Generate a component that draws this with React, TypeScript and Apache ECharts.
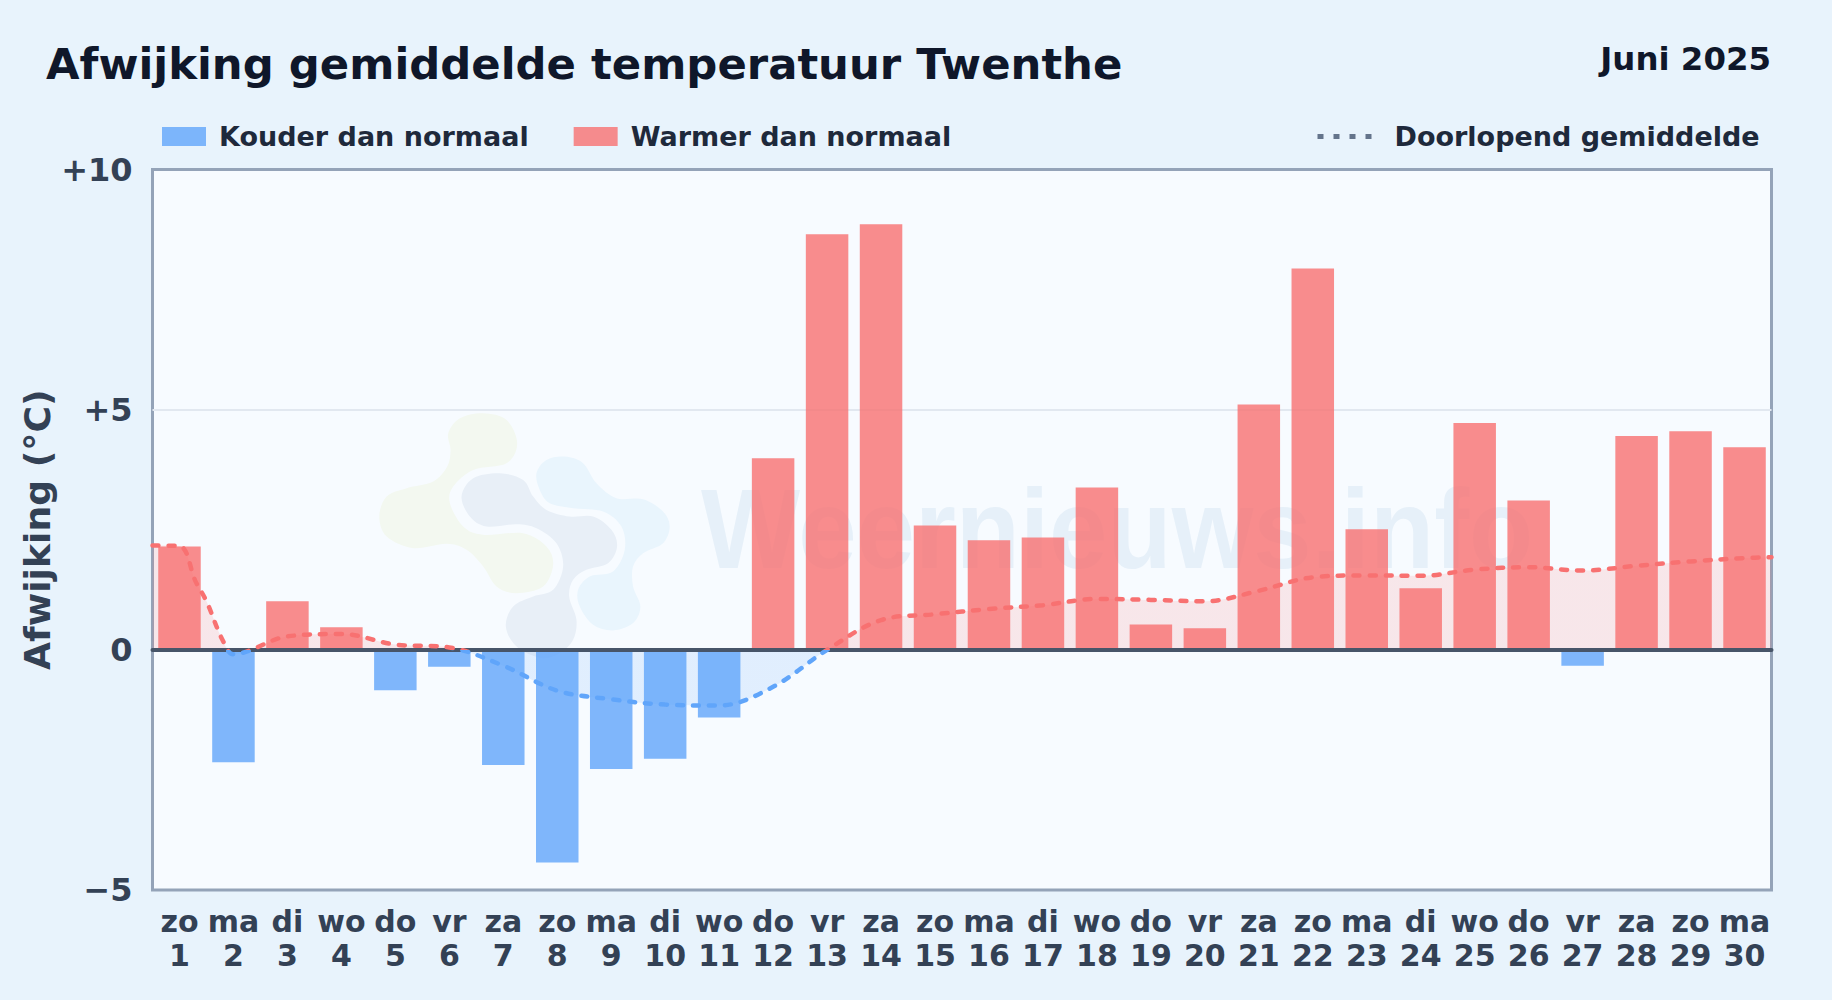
import React, { useEffect, useRef } from "react";
import * as echarts from "echarts";

const weekdays = ["zo","ma","di","wo","do","vr","za","zo","ma","di","wo","do","vr","za","zo","ma","di","wo","do","vr","za","zo","ma","di","wo","do","vr","za","zo","ma"];
const days = ["1","2","3","4","5","6","7","8","9","10","11","12","13","14","15","16","17","18","19","20","21","22","23","24","25","26","27","28","29","30"];
const anomalies = [2.15,-2.34,1.01,0.47,-0.84,-0.35,-2.40,-4.43,-2.48,-2.27,-1.41,3.99,8.65,8.86,2.59,2.28,2.34,3.38,0.53,0.45,5.11,7.94,2.51,1.28,4.72,3.11,-0.33,4.45,4.55,4.22];
const runningMean = [2.16,-0.09,0.28,0.33,0.11,0.05,-0.33,-0.85,-1.03,-1.14,-1.16,-0.77,0.0,0.62,0.74,0.85,0.93,1.06,1.04,1.01,1.23,1.51,1.55,1.54,1.67,1.72,1.65,1.75,1.84,1.91];
const meanAtLeftEdge = 2.17;
const meanBetweenDay1And2 = [[0.8, 1.42], [1.0, 1.01], [1.3, 0.2]];
const meanAtRightEdge = 1.93;
const yTicks = [-5, 0, 5, 10];
const yTickLabels = ["\u22125", "0", "+5", "+10"];

const FONT = "DejaVu Sans";
const RED = "#f87171";
const BLUE = "#60a5fa";
const GRID_TOP = 169.5;
const GRID_H = 720.5;

const logoGreen = [[265,130],[300,85],[370,70],[440,90],[472,160],[440,220],[340,240],[280,290],[270,340],[310,410],[370,435],[490,430],[560,470],[580,525],[550,590],[470,610],[410,590],[370,530],[320,480],[260,462],[160,475],[80,440],[58,380],[80,320],[140,295],[220,275],[262,230],[272,180]];
const logoMid = [[305,320],[340,265],[420,250],[490,270],[520,320],[560,360],[630,380],[700,380],[755,420],[772,470],[745,520],[680,540],[640,570],[628,620],[650,690],[640,750],[600,790],[545,805],[470,770],[438,710],[460,650],[520,620],[580,600],[610,530],[590,460],[530,415],[470,403],[380,410],[330,380]];
const logoLight = [[530,250],[560,210],[615,200],[670,220],[710,280],[770,325],[850,328],[910,365],[930,410],[910,460],[850,490],[820,530],[820,590],[842,650],[820,700],[760,722],[700,705],[660,650],[655,600],[690,560],[760,545],[795,480],[785,410],[730,365],[640,355],[570,340],[540,300]];

function closedCurve(p: number[][]): string {
  const n = p.length;
  let d = `M${p[0][0]} ${p[0][1]}`;
  for (let i = 0; i < n; i++) {
    const a = p[(i - 1 + n) % n], b = p[i], c = p[(i + 1) % n], e = p[(i + 2) % n];
    d += `C${b[0] + (c[0] - a[0]) / 6} ${b[1] + (c[1] - a[1]) / 6} ${c[0] - (e[0] - b[0]) / 6} ${c[1] - (e[1] - b[1]) / 6} ${c[0]} ${c[1]}`;
  }
  return d + "Z";
}
echarts.graphic.registerShape("wnGreen", echarts.graphic.extendPath(closedCurve(logoGreen), {}));
echarts.graphic.registerShape("wnMid", echarts.graphic.extendPath(closedCurve(logoMid), {}));
echarts.graphic.registerShape("wnLight", echarts.graphic.extendPath(closedCurve(logoLight), {}));

const dayPoints = runningMean.map((v, i) => [i + 0.5, v]);
const meanPoints = [[0, meanAtLeftEdge], dayPoints[0], ...meanBetweenDay1And2, ...dayPoints.slice(1), [30, meanAtRightEdge]];
const logoPlace = { x: 360, y: 390, scaleX: 1 / 3, scaleY: 1 / 3, silent: true, z: 0 };

function signGradient() {
  const zero = 10 / 15;
  return new echarts.graphic.LinearGradient(0, GRID_TOP, 0, GRID_TOP + GRID_H, [
    { offset: 0, color: RED },
    { offset: zero, color: RED },
    { offset: zero, color: BLUE },
    { offset: 1, color: BLUE },
  ], true);
}

function buildOption(): any {
  return {
    animation: false,
    backgroundColor: "#e8f3fc",
    textStyle: { fontFamily: FONT },
    title: [
      { text: "Afwijking gemiddelde temperatuur Twenthe", left: 41, top: 37, textStyle: { fontFamily: FONT, fontSize: 43.35, fontWeight: "bold", color: "#0f172a" } },
      { text: "Juni 2025", right: 56, top: 38, textStyle: { fontFamily: FONT, fontSize: 32.4, fontWeight: "bold", color: "#0f172a" } },
    ],
    legend: [
      {
        left: 157, top: 118, itemWidth: 44, itemHeight: 19, itemGap: 45, selectedMode: false, icon: "rect",
        data: ["Kouder dan normaal", "Warmer dan normaal"],
        textStyle: { fontFamily: FONT, fontSize: 27, fontWeight: "bold", color: "#1e293b", padding: [0, 0, 0, 8] },
      },
      {
        left: 1310, top: 118, itemWidth: 56, itemHeight: 19, selectedMode: false,
        data: [{ name: "Doorlopend gemiddelde", itemStyle: { opacity: 0 }, lineStyle: { color: "#64748b", width: 5, type: [6, 10], cap: "butt" } }],
        textStyle: { fontFamily: FONT, fontSize: 27, fontWeight: "bold", color: "#1e293b", padding: [0, 0, 0, 16] },
      },
    ],
    grid: { left: 152.5, top: GRID_TOP, width: 1619, height: GRID_H, outerBoundsMode: "none", show: true, backgroundColor: "#f7fbff", borderColor: "#94a3b8", borderWidth: 3 },
    xAxis: [
      {
        type: "category", data: days, position: "bottom",
        axisLine: { show: false, onZero: false }, axisTick: { show: false },
        axisLabel: {
          interval: 0, margin: 14, fontFamily: FONT, fontSize: 30, fontWeight: "bold", color: "#334155", lineHeight: 34,
          formatter: (_: string, i: number) => `${weekdays[i]}\n${days[i]}`,
        },
      },
      {
        type: "value", min: 0, max: 30, position: "bottom", z: 4,
        axisLine: { show: true, onZero: true, lineStyle: { color: "#475569", width: 4 } },
        axisTick: { show: false }, axisLabel: { show: false }, splitLine: { show: false },
      },
    ],
    yAxis: {
      type: "value", min: -5, max: 10, interval: 5,
      name: "Afwijking (\u00b0C)", nameLocation: "middle", nameGap: 97, nameRotate: 90, nameMoveOverlap: false,
      nameTextStyle: { fontFamily: FONT, fontSize: 36.2, fontWeight: "bold", color: "#334155" },
      axisLine: { show: false }, axisTick: { show: false },
      axisLabel: { margin: 20, fontFamily: FONT, fontSize: 32, fontWeight: "bold", color: "#334155", formatter: (v: number) => yTickLabels[yTicks.indexOf(v)] },
      splitLine: { show: true, showMinLine: false, showMaxLine: false, lineStyle: { color: "#e2e8f0", width: 2 } },
    },
    series: [
      { name: "Kouder dan normaal", type: "bar", xAxisIndex: 0, barWidth: 42.5, barGap: "-100%", z: 3, itemStyle: { color: BLUE, opacity: 0.8 }, data: anomalies.map((v) => (v < 0 ? v : null)) },
      { name: "Warmer dan normaal", type: "bar", xAxisIndex: 0, barWidth: 42.5, barGap: "-100%", z: 3, itemStyle: { color: RED, opacity: 0.8 }, data: anomalies.map((v) => (v >= 0 ? v : null)) },
      { name: "Doorlopend vlak", type: "line", xAxisIndex: 1, smooth: 0.35, showSymbol: false, symbol: "none", z: 1, lineStyle: { width: 0, opacity: 0 }, areaStyle: { color: signGradient(), opacity: 0.15 }, data: meanPoints },
      { name: "Doorlopend gemiddelde", type: "line", xAxisIndex: 1, smooth: 0.35, showSymbol: false, symbol: "none", z: 5, itemStyle: { color: RED }, lineStyle: { color: signGradient(), width: 4.5, type: [6, 10], cap: "round" }, data: meanPoints },
    ],
    graphic: [
      { type: "wnGreen", ...logoPlace, style: { fill: "#f3f8f0" } },
      { type: "wnMid", ...logoPlace, style: { fill: "#e8eff7" } },
      { type: "wnLight", ...logoPlace, style: { fill: "#e9f5fd" } },
      { type: "text", x: 701, y: 473, scaleY: 1.07, silent: true, z: 0, style: { text: "Weernieuws.info", fontFamily: "Liberation Sans", fontWeight: "bold", fontSize: 105, fill: "#e6f0f9", textBaseline: "middle" } },
    ],
  };
}

export default function App() {
  const ref = useRef<HTMLDivElement>(null);
  useEffect(() => {
    document.body.style.margin = "0";
    const chart = echarts.init(ref.current!, undefined, { renderer: "svg" });
    chart.setOption(buildOption());
    return () => chart.dispose();
  }, []);
  return <div ref={ref} style={{ position: "absolute", left: 0, top: 0, width: 1832, height: 1000 }} />;
}
